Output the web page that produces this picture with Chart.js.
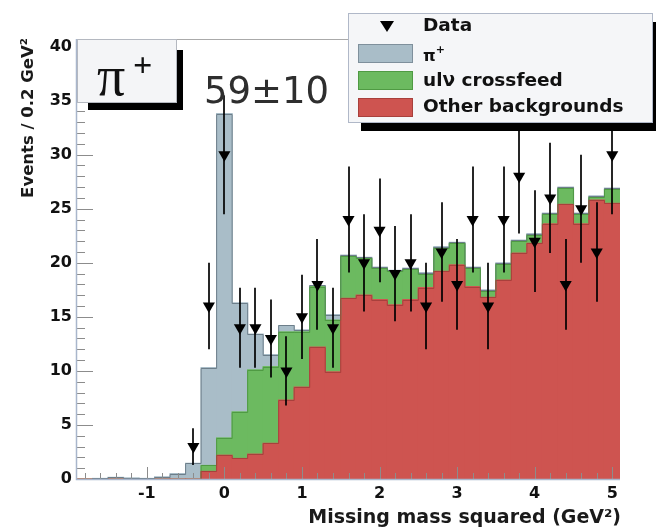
<!DOCTYPE html>
<html><head><meta charset="utf-8">
<script src="https://cdn.jsdelivr.net/npm/chart.js@4.4.1/dist/chart.umd.min.js"></script>
<style>html,body{margin:0;padding:0;background:#fff;overflow:hidden}canvas{display:block}</style>
</head><body>
<canvas id="c" width="656" height="529"></canvas>
<script>
// ---- data ----
const binCenters = [-1.8,-1.6,-1.4,-1.2,-1.0,-0.8,-0.6,-0.4,-0.2,0.0,0.2,0.4,0.6,0.8,1.0,1.2,1.4,1.6,1.8,2.0,2.2,2.4,2.6,2.8,3.0,3.2,3.4,3.6,3.8,4.0,4.2,4.4,4.6,4.8,5.0];
// stack tops (cumulative heights)
const otherBkgTop  = [0,0,0,0,0,0,0,0,0.7,2.2,1.9,2.3,3.3,7.3,8.5,12.2,9.9,16.7,17.0,16.6,16.1,16.6,17.7,19.2,19.8,17.8,16.8,18.4,20.9,21.8,23.6,25.4,23.6,25.8,25.5];
const crossfeedTop = [0,0,0,0,0,0,0,0,1.25,3.8,6.2,10.1,10.4,13.6,13.6,17.8,14.7,20.6,20.4,19.5,19.2,19.4,19.0,21.4,21.8,19.5,17.4,19.9,22.0,22.6,24.5,26.9,24.5,26.1,26.8];
const pionTop      = [0,0.05,0.15,0.1,0.05,0.2,0.5,1.45,10.3,33.8,16.3,13.4,11.5,14.2,13.8,17.9,15.2,20.7,20.5,19.6,19.3,19.5,19.1,21.5,21.9,19.6,17.5,20.0,22.1,22.7,24.6,27.0,24.6,26.2,26.9];
const dataX   = [-0.4,-0.2,0.0,0.2,0.4,0.6,0.8,1.0,1.2,1.4,1.6,1.8,2.0,2.2,2.4,2.6,2.8,3.0,3.2,3.4,3.6,3.8,4.0,4.2,4.4,4.6,4.8,5.0];
const dataY   = [3,16,30,14,14,13,10,15,18,14,24,20,23,19,20,16,21,18,24,16,24,28,22,26,18,25,21,30];
const dataErr = [1.7,4.0,5.5,3.7,3.7,3.6,3.2,3.9,4.2,3.7,4.9,4.5,4.8,4.4,4.5,4.0,4.6,4.2,4.9,4.0,4.9,5.3,4.7,5.1,4.2,5.0,4.6,5.5];
const xTicks = [-1,0,1,2,3,4,5];
const yTicks = [0,5,10,15,20,25,30,35,40];
const xTitle = 'Missing mass squared (GeV²)';
const yTitle = 'Events / 0.2 GeV²';
const legendLabels = ['Data','π+','ulν crossfeed','Other backgrounds'];
const yieldText = '59±10';
const panelText = 'π+';

const BLUE='#a9bdc8', GREEN='#6cba60', RED='#ce5450';
const OUTLINE = {1:'#a8403c', 2:'#4f9a43', 3:'#6d7e8a'};
const FONT='DejaVu Sans';
function pts(xs, ys){ return xs.map((x,i)=>({x:x, y:ys[i]})); }

const decor = {
  id:'decor',
  beforeDatasetDraw(chart, args){
    if (args.index !== 0) return;
    const ctx = chart.ctx, xs = chart.scales.x, ys = chart.scales.y, a = chart.chartArea;
    ctx.save();
    // step outlines along the tops of each histogram (from the bar elements)
    [3,2,1].forEach(di=>{
      const els = chart.getDatasetMeta(di).data;
      ctx.strokeStyle = OUTLINE[di]; ctx.lineWidth = 1;
      ctx.beginPath();
      let started = false, prevY = null;
      els.forEach(el=>{
        const p = el.getProps(['x','y','base','width'], true);
        const y = Math.round(p.y)+0.5;
        const l = p.x - p.width/2, r = p.x + p.width/2;
        if (Math.abs(p.base - p.y) < 0.5) { started = false; prevY = null; return; }
        if (!started){ ctx.moveTo(l, Math.round(p.base)); ctx.lineTo(l, y); started = true; }
        else { ctx.lineTo(l, y); }
        ctx.lineTo(r, y);
        prevY = y;
      });
      ctx.stroke();
    });
    // tick marks (inside the frame)
    ctx.strokeStyle='#8c8c8c'; ctx.lineWidth=1;
    ctx.beginPath();
    for (let v=0; v<=40; v++){
      const py = Math.round(ys.getPixelForValue(v))+0.5;
      const len = (v%5===0)?16:8;
      ctx.moveTo(a.left, py); ctx.lineTo(a.left+len, py);
    }
    for (let k=-9; k<=25; k++){
      const v = k*0.2;
      const px = Math.round(xs.getPixelForValue(v))+0.5;
      const major = (k%5===0);
      ctx.moveTo(px, a.bottom); ctx.lineTo(px, a.bottom-(major?12:6));
    }
    ctx.stroke();
    // error bars
    ctx.strokeStyle='rgba(0,0,0,0.85)'; ctx.lineWidth=2;
    dataX.forEach((x,i)=>{
      const px = Math.round(xs.getPixelForValue(x));
      ctx.beginPath();
      ctx.moveTo(px, ys.getPixelForValue(dataY[i]+dataErr[i]));
      ctx.lineTo(px, ys.getPixelForValue(Math.max(0,dataY[i]-dataErr[i])));
      ctx.stroke();
    });
    ctx.restore();
  },
  afterDraw(chart){
    const ctx = chart.ctx, a = chart.chartArea;
    ctx.save();
    // axis lines
    ctx.strokeStyle='#a9b6cc'; ctx.lineWidth=1.5;
    ctx.beginPath();
    ctx.moveTo(a.left-0.5, a.top); ctx.lineTo(a.left-0.5, a.bottom+0.5);
    ctx.lineTo(a.right, a.bottom+0.5);
    ctx.stroke();
    ctx.strokeStyle='#aaaaaa'; ctx.lineWidth=1;
    ctx.beginPath(); ctx.moveTo(a.left, a.top+0.5); ctx.lineTo(350, a.top+0.5); ctx.stroke();

    // yield text
    ctx.fillStyle='#2e2e2e';
    ctx.font = '37px "'+FONT+'"';
    ctx.textAlign='left'; ctx.textBaseline='alphabetic';
    ctx.fillText(yieldText, 204, 103);

    // pi+ panel
    ctx.fillStyle='#000';
    ctx.fillRect(177,50,6,60);
    ctx.fillRect(88,103,95,7);
    ctx.fillStyle='#f4f5f7';
    ctx.fillRect(a.left, a.top, 177-a.left, 103-a.top);
    ctx.strokeStyle='#b4b8c0'; ctx.lineWidth=1;
    ctx.strokeRect(a.left+0.5, a.top+0.5, 177-a.left-1, 103-a.top-1);
    ctx.fillStyle='#111';
    ctx.font = '56px "Liberation Serif"';
    ctx.fillText(panelText.charAt(0), 97, 95);
    ctx.font = 'bold 34px "Liberation Serif"';
    ctx.fillText(panelText.charAt(1), 133, 76);

    // legend
    ctx.fillStyle='#000';
    ctx.fillRect(361,122,295,9);
    ctx.fillRect(653,22,3,109);
    ctx.fillStyle='#f5f6f8';
    ctx.fillRect(348,13,305,110);
    ctx.strokeStyle='#b0b8c8'; ctx.lineWidth=1;
    ctx.strokeRect(348.5,13.5,304,109);
    // Data marker
    ctx.fillStyle='#000';
    ctx.beginPath(); ctx.moveTo(380,21); ctx.lineTo(394,21); ctx.lineTo(387,32); ctx.closePath(); ctx.fill();
    const sw = [[BLUE,'#7f909c',44],[GREEN,'#4f9a43',71],[RED,'#a8403c',98]];
    sw.forEach(s=>{
      ctx.fillStyle=s[0]; ctx.fillRect(358,s[2],55,19);
      ctx.strokeStyle=s[1]; ctx.strokeRect(358.5,s[2]+0.5,54,18);
    });
    ctx.fillStyle='#111';
    ctx.textBaseline='middle';
    ctx.font = 'bold 18.5px "'+FONT+'"';
    ctx.fillText(legendLabels[0], 423, 26);
    ctx.fillText(legendLabels[2], 423, 81);
    ctx.fillText(legendLabels[3], 423, 107);
    ctx.font = 'bold 16px "'+FONT+'"';
    ctx.fillText(legendLabels[1].charAt(0), 423, 57);
    const w = ctx.measureText(legendLabels[1].charAt(0)).width;
    ctx.font = 'bold 11px "'+FONT+'"';
    ctx.fillText(legendLabels[1].charAt(1), 423+w, 50);

    // axis titles
    ctx.fillStyle='#1a1a1a';
    ctx.font = 'bold 19px "'+FONT+'"';
    ctx.textAlign='right'; ctx.textBaseline='alphabetic';
    ctx.fillText(xTitle, 621, 523);
    ctx.save();
    ctx.translate(33, 38); ctx.rotate(-Math.PI/2);
    ctx.font = 'bold 16.5px "'+FONT+'"';
    ctx.textAlign='right';
    ctx.fillText(yTitle, 0, 0);
    ctx.restore();
    ctx.restore();
  }
};

const barCommon = {grouped:false, barPercentage:1, categoryPercentage:1, inflateAmount:0.6, borderWidth:0};

new Chart(document.getElementById('c'), {
  type:'bar',
  data:{ datasets:[
    {type:'scatter', label:legendLabels[0], data:pts(dataX,dataY), pointStyle:'triangle', pointRotation:180, pointRadius:7, pointBackgroundColor:'#000', pointBorderColor:'#000', pointBorderWidth:0, showLine:false, order:0},
    Object.assign({label:legendLabels[3], data:pts(binCenters,otherBkgTop), backgroundColor:RED, order:1}, barCommon),
    Object.assign({label:legendLabels[2], data:pts(binCenters,crossfeedTop), backgroundColor:GREEN, order:2}, barCommon),
    Object.assign({label:legendLabels[1], data:pts(binCenters,pionTop), backgroundColor:BLUE, order:3}, barCommon)
  ]},
  options:{
    responsive:false, animation:false, devicePixelRatio:1,
    layout:{padding:{left:0, top:39, right:36, bottom:0}},
    plugins:{legend:{display:false}, tooltip:{enabled:false}},
    scales:{
      x:{type:'linear', min:-1.9, max:5.1, offset:false,
         grid:{display:false, drawTicks:false}, border:{display:false},
         afterBuildTicks(s){ s.ticks = xTicks.map(v=>({value:v})); },
         afterFit(s){ s.height = 50; },
         ticks:{font:{family:FONT, weight:'bold', size:16}, color:'#111', padding:5, maxRotation:0, autoSkip:false, callback:v=>String(v)}},
      y:{type:'linear', min:0, max:40.7,
         grid:{display:false, drawTicks:false}, border:{display:false},
         afterBuildTicks(s){ s.ticks = yTicks.map(v=>({value:v})); },
         afterFit(s){ s.width = 77; },
         ticks:{font:{family:FONT, weight:'bold', size:16}, color:'#111', padding:5, autoSkip:false, callback:v=>String(v)}}
    }
  },
  plugins:[decor]
});
</script>
</body></html>
